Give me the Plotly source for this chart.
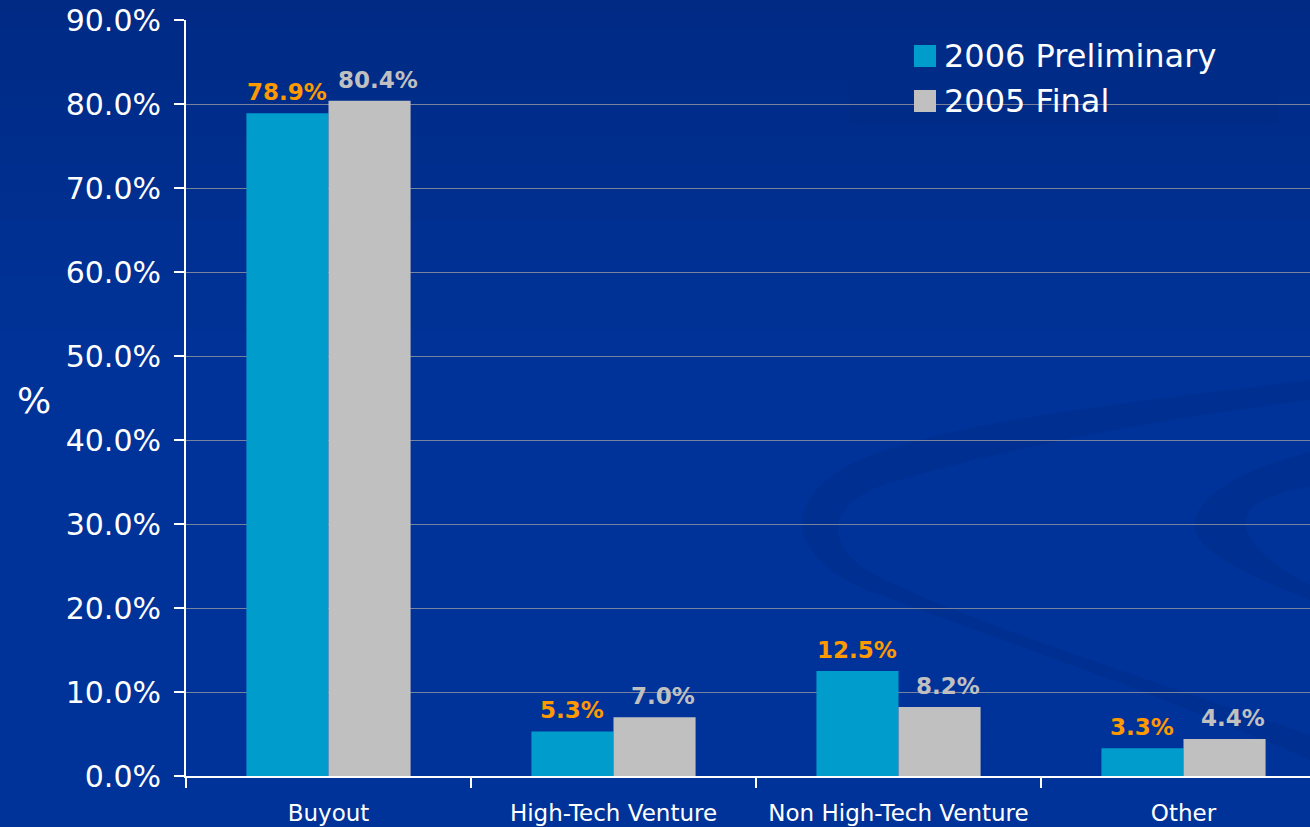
import plotly.graph_objects as go

# Data
categories = ["Buyout", "High-Tech Venture", "Non High-Tech Venture", "Other"]
prelim_2006 = [78.9, 5.3, 12.5, 3.3]
final_2005 = [80.4, 7.0, 8.2, 4.4]
series_names = ["2006 Preliminary", "2005 Final"]

# Style
W, H = 1310, 827
ML, MR, MT, MB = 186, 0, 20, 51
BG_TOP = (0, 42, 132)
BG_MID = (0, 51, 153)
CYAN = "#009CCC"
GRAY = "#C0C0C0"
ORANGE = "#FF9900"
FONT = "DejaVu Sans"
BAR_W = 0.288

PW, PH = W - ML - MR, H - MT - MB


def px_to_paper(x, y):
    return (x - ML) / PW, (H - MB - y) / PH


def bg_color(y):
    """Background colour at pixel row y (darker towards the top)."""
    k = min(1.0, y / (0.45 * H))
    return tuple(round(BG_TOP[j] + (BG_MID[j] - BG_TOP[j]) * k) for j in range(3))


def curve_path(segments):
    """Closed path from a start point and a list of cubic bezier segments in pixels."""
    (sx, sy), rest = segments[0], segments[1:]
    px, py = px_to_paper(sx, sy)
    out = [f"M{px:.4f},{py:.4f}"]
    for seg in rest:
        if len(seg) == 3:
            pts = [px_to_paper(*p) for p in seg]
            out.append("C" + " ".join(f"{a:.4f},{b:.4f}" for a, b in pts))
        else:
            a, b = px_to_paper(*seg)
            out.append(f"L{a:.4f},{b:.4f}")
    return " ".join(out) + " Z"


fig = go.Figure()
fig.add_trace(go.Bar(x=categories, y=prelim_2006, name=series_names[0],
                     marker=dict(color=CYAN, line=dict(width=0))))
fig.add_trace(go.Bar(x=categories, y=final_2005, name=series_names[1],
                     marker=dict(color=GRAY, line=dict(width=0))))

shapes = []

# Vertical background gradient, drawn as thin bands
n_bands = 60
x0, _ = px_to_paper(0, 0)
x1, _ = px_to_paper(W, 0)
for i in range(n_bands):
    top = i * H / n_bands
    bot = (i + 1) * H / n_bands
    _, p0 = px_to_paper(0, bot + 1)
    _, p1 = px_to_paper(0, top - 1)
    c = bg_color((top + bot) / 2)
    shapes.append(dict(type="rect", xref="paper", yref="paper", layer="below",
                       x0=x0, x1=x1, y0=p0, y1=p1,
                       fillcolor=f"rgb{c}", line=dict(width=0)))

# Faint swirl decoration in the lower right
swirl_outer = [
    (1310, 380),
    ((1150, 400), (950, 420), (860, 460)),
    ((780, 495), (780, 560), (880, 595)),
    ((1000, 640), (1150, 690), (1310, 760)),
    (1310, 735),
    ((1150, 680), (980, 625), (885, 580)),
    ((820, 550), (820, 500), (900, 480)),
    ((1000, 450), (1150, 420), (1310, 400)),
]
swirl_inner = [
    (1310, 452),
    ((1220, 475), (1180, 510), (1200, 540)),
    ((1215, 560), (1260, 580), (1310, 600)),
    (1310, 585),
    ((1260, 560), (1235, 530), (1250, 510)),
    ((1265, 495), (1290, 490), (1310, 487)),
]
for segs in (swirl_outer, swirl_inner):
    shapes.append(dict(type="path", xref="paper", yref="paper", layer="below",
                       path=curve_path(segs),
                       fillcolor="rgba(0,30,110,0.16)", line=dict(width=0)))

# Legend panel, boxes and text
lx0, ly0 = px_to_paper(850, 125)
lx1, ly1 = px_to_paper(1278, 27)
shapes.append(dict(type="rect", xref="paper", yref="paper", layer="between",
                   x0=lx0, x1=lx1, y0=ly0, y1=ly1,
                   fillcolor=f"rgb{bg_color(76)}", line=dict(width=0)))
annotations = []
for name, color, yc in zip(series_names, [CYAN, GRAY], [56, 101]):
    bx0, by0 = px_to_paper(914, yc + 11)
    bx1, by1 = px_to_paper(936, yc - 11)
    shapes.append(dict(type="rect", xref="paper", yref="paper", layer="above",
                       x0=bx0, x1=bx1, y0=by0, y1=by1,
                       fillcolor=color, line=dict(width=0)))
    tx, ty = px_to_paper(942, yc)
    annotations.append(dict(xref="paper", yref="paper", x=tx, y=ty,
                            xanchor="left", yanchor="middle", showarrow=False,
                            text=name, font=dict(family=FONT, size=32, color="white")))

# Value labels above each bar
for i, (a, b) in enumerate(zip(prelim_2006, final_2005)):
    annotations.append(dict(x=i - BAR_W / 2, y=a, xref="x", yref="y",
                            text=f"{a:.1f}%", showarrow=False, yanchor="bottom",
                            yshift=6,
                            font=dict(family=FONT, size=23, color=ORANGE, weight="bold")))
    annotations.append(dict(x=i + BAR_W / 2, y=b, xref="x", yref="y",
                            text=f"{b:.1f}%", showarrow=False, yanchor="bottom",
                            yshift=6, xshift=8,
                            font=dict(family=FONT, size=23, color=GRAY, weight="bold")))

# Y axis title
tx, ty = px_to_paper(34, 400)
annotations.append(dict(xref="paper", yref="paper", x=tx, y=ty, text="%",
                        showarrow=False, xanchor="center", yanchor="middle",
                        font=dict(family=FONT, size=36, color="white")))

fig.update_layout(
    width=W, height=H,
    margin=dict(l=ML, r=MR, t=MT, b=MB),
    paper_bgcolor="rgb(0,51,153)",
    plot_bgcolor="rgba(0,0,0,0)",
    barmode="group",
    bargap=1 - 2 * BAR_W,
    bargroupgap=0,
    showlegend=False,
    shapes=shapes,
    annotations=annotations,
    font=dict(family=FONT, color="white"),
)
fig.update_xaxes(
    type="category",
    range=[-0.5, -0.5 + PW / 285],
    tickson="boundaries",
    ticks="outside", ticklen=10, tickwidth=2, tickcolor="white",
    showline=True, linecolor="white", linewidth=2,
    showgrid=False,
    tickfont=dict(family=FONT, size=23, color="white"),
    ticklabelstandoff=15,
)
fig.update_yaxes(
    range=[0, 90], dtick=10, tick0=0,
    tickformat=".1f", ticksuffix="%",
    ticks="outside", ticklen=10, tickwidth=2, tickcolor="white",
    showline=True, linecolor="white", linewidth=2,
    showgrid=True, gridcolor="rgba(160,160,160,0.75)", gridwidth=1,
    zeroline=False,
    tickfont=dict(family=FONT, size=30, color="white"),
    ticklabelstandoff=7,
)

fig.write_html("out.html")
